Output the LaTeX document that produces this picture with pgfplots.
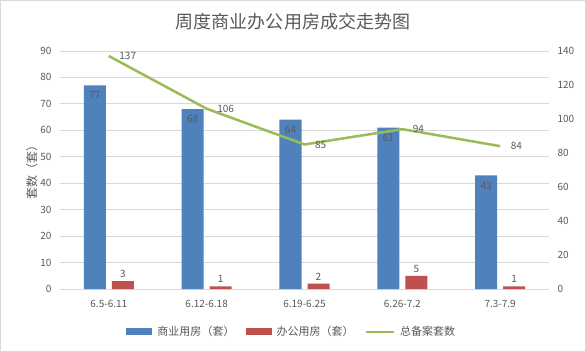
\documentclass[border=0pt]{standalone}
\usepackage{pgfplots}
\pgfplotsset{compat=1.18}
\usepackage{fontspec}
\setmainfont{Noto Sans CJK SC}
\definecolor{cblue}{HTML}{4F81BD}
\definecolor{cred}{HTML}{C0504D}
\definecolor{cgreen}{HTML}{9BBB59}
\definecolor{ctext}{HTML}{595959}
\definecolor{cgrid}{HTML}{D9D9D9}
\begin{document}
\begin{tikzpicture}
\draw[cgrid,line width=0.8pt] (0.5pt,0.5pt) rectangle (585.5pt,351.5pt);
\node[text=ctext,font=\fontsize{18}{20}\selectfont] at (293pt,330pt) {周度商业办公用房成交走势图};
\pgfplotsset{
  common/.style={
    at={(60pt,63pt)}, anchor=south west,
    width=489pt, height=238pt, scale only axis,
    xmin=-0.5, xmax=4.5,
    xtick={0,1,2,3,4},
    xticklabels={6.5-6.11,6.12-6.18,6.19-6.25,6.26-7.2,7.3-7.9},
    tick label style={text=ctext,font=\fontsize{10}{12}\selectfont},
    /pgf/number format/assume math mode=true,
    major tick length=0pt,
  }
}
\begin{axis}[common,
  ymin=0, ymax=90, ytick={0,10,...,90},
  axis y line*=left, axis x line*=bottom,
  y axis line style={draw=none},
  x axis line style={draw=cgrid,line width=0.8pt},
  ymajorgrids, grid style={cgrid,line width=0.8pt},
  yticklabel style={xshift=-5pt},
  ylabel={套数（套）}, ylabel style={text=ctext,font=\fontsize{12}{14}\selectfont},
  ylabel shift=-4pt,
  xtick style={draw=none},
  xticklabel style={yshift=-8pt},
  ybar, bar width=22pt,
  nodes near coords,
  nodes near coords style={text=ctext,font=\fontsize{10}{12}\selectfont},
  legend style={at={(0.474,-0.18)}, anchor=center, draw=none, legend columns=3,
    font=\fontsize{11}{13}\selectfont, text=ctext,
    /tikz/every odd column/.append style={column sep=3pt},
    /tikz/every even column/.append style={column sep=9pt}},
  legend image code/.code={\fill[#1] (0pt,-3.5pt) rectangle (26pt,3.5pt);},
]
\addplot[fill=cblue, draw=none, bar shift=-14pt,
  nodes near coords style={anchor=north, yshift=-3pt}]
  coordinates {(0,77) (1,68) (2,64) (3,61) (4,43)};
\addlegendentry{商业用房（套）}
\addplot[fill=cred, draw=none, bar shift=14pt,
  nodes near coords style={anchor=south}]
  coordinates {(0,3) (1,1) (2,2) (3,5) (4,1)};
\addlegendentry{办公用房（套）}
\addlegendimage{legend image code/.code={\draw[cgreen,line width=2.5pt] (0pt,0pt) -- (28pt,0pt);}}
\addlegendentry{总备案套数}
\end{axis}
\begin{axis}[common,
  ymin=0, ymax=140, ytick={0,20,...,140},
  axis y line*=right, axis x line=none,
  y axis line style={draw=none},
  yticklabel style={xshift=5pt},
  xticklabels={},
]
\addplot[cgreen, line width=2.5pt, mark=none,
  nodes near coords,
  nodes near coords style={anchor=west, xshift=6pt, text=ctext, font=\fontsize{10}{12}\selectfont}]
  coordinates {(0,137) (1,106) (2,85) (3,94) (4,84)};
\end{axis}
\end{tikzpicture}
\end{document}
